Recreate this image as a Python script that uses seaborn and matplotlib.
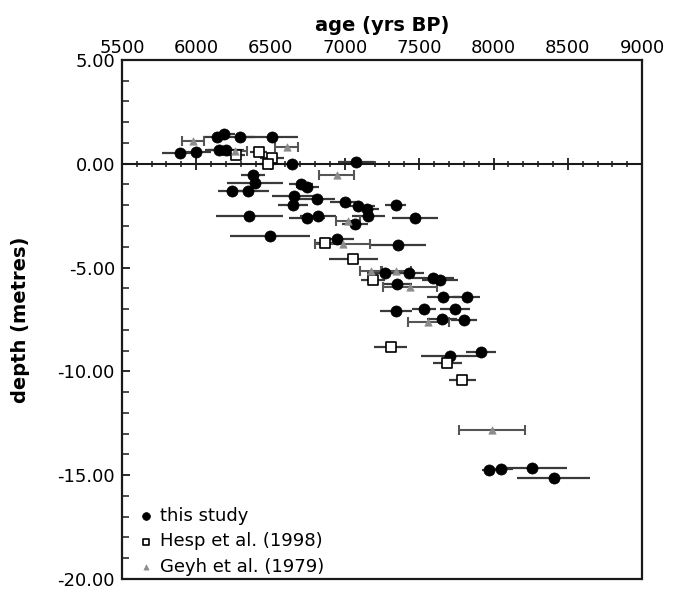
import numpy as np
import pandas as pd
import matplotlib
matplotlib.use("Agg")
import matplotlib.pyplot as plt
import seaborn as sns
from matplotlib.ticker import MultipleLocator, FixedLocator, FormatStrFormatter

# ---- data: this study (filled circles) ----
study_age = [5890, 5998, 6137, 6190, 6297, 6507, 6156, 6200, 6647, 6380,
             6397, 6703, 6748, 6244, 6347, 6657, 6814, 6649, 7001, 7090,
             7151, 7342, 6358, 6747, 6819, 7157, 7472, 7068, 6498, 6950,
             7359, 7270, 7431, 7349, 7593, 7640, 7662, 7820, 7344, 7532,
             7741, 7651, 7801, 7707, 7916, 7970, 8050, 8257, 8405, 7075]
study_depth = [0.51, 0.58, 1.28, 1.42, 1.30, 1.27, 0.66, 0.66, 0.00, -0.53,
               -0.94, -0.96, -1.13, -1.33, -1.33, -1.58, -1.71, -2.00, -1.86, -2.06,
               -2.18, -1.98, -2.54, -2.63, -2.51, -2.54, -2.62, -2.92, -3.50, -3.63,
               -3.90, -5.27, -5.27, -5.78, -5.52, -5.59, -6.42, -6.42, -7.08, -7.00,
               -7.00, -7.47, -7.52, -9.24, -9.05, -14.75, -14.70, -14.66, -15.15, 0.06]
study_err = [120, 100, 90, 70, 100, 175, 100, 120, 60, 80,
             190, 80, 80, 100, 140, 150, 120, 100, 100, 110,
             80, 70, 225, 120, 120, 110, 157, 90, 270, 110,
             190, 120, 100, 100, 140, 120, 110, 90, 110, 80,
             100, 100, 90, 195, 100, 50, 80, 235, 245, 120]

# ---- data: Hesp et al. (1998) (open squares) ----
hesp_age = [6267, 6419, 6511, 6486, 6869, 7057, 7187, 7309, 7689, 7790]
hesp_depth = [0.41, 0.54, 0.27, -0.01, -3.82, -4.58, -5.62, -8.81, -9.61, -10.43]
hesp_err = [60, 60, 80, 60, 80, 163, 80, 112, 98, 90]

# ---- data: Geyh et al. (1979) (grey triangles) ----
geyh_age = [5976, 6608, 6260, 6945, 7019, 6985, 7174, 7344, 7438, 7561, 7987]
geyh_depth = [1.08, 0.82, 0.59, -0.55, -2.78, -3.88, -5.15, -5.15, -5.95, -7.61, -12.83]
geyh_err = [75, 75, 80, 118, 82, 185, 74, 98, 180, 138, 222]

x_ticks = [5500, 6000, 6500, 7000, 7500, 8000, 8500, 9000]
y_ticks = [5, 0, -5, -10, -15, -20]

sns.set_theme(style="white")
plt.rcParams['font.family'] = ['DejaVu Sans']
plt.rcParams['text.color'] = 'black'
plt.rcParams['axes.labelcolor'] = 'black'
plt.rcParams['xtick.color'] = 'black'
plt.rcParams['ytick.color'] = 'black'

fig = plt.figure(figsize=(6.81, 5.90), dpi=100)
ax = fig.add_axes([0.179, 0.0186, 0.764, 0.880])

study = pd.DataFrame({"age": study_age, "depth": study_depth, "err": study_err})
hesp = pd.DataFrame({"age": hesp_age, "depth": hesp_depth, "err": hesp_err})
geyh = pd.DataFrame({"age": geyh_age, "depth": geyh_depth, "err": geyh_err})

# error bars
ax.errorbar(study["age"], study["depth"], xerr=study["err"], fmt="none",
            ecolor="#3a3a3a", elinewidth=1.6, capsize=0, zorder=2)
ax.errorbar(hesp["age"], hesp["depth"], xerr=hesp["err"], fmt="none",
            ecolor="#3a3a3a", elinewidth=1.6, capsize=0, zorder=2)
ax.errorbar(geyh["age"], geyh["depth"], xerr=geyh["err"], fmt="none",
            ecolor="#555555", elinewidth=1.5, capsize=3.5, capthick=1.5, zorder=2)

# markers
sns.scatterplot(data=study, x="age", y="depth", ax=ax, marker="o", s=64,
                color="black", edgecolor="black", linewidth=0.5,
                label="this study", zorder=4)
sns.scatterplot(data=hesp, x="age", y="depth", ax=ax, marker="s", s=45,
                facecolor="white", edgecolor="black", linewidth=1.2,
                label="Hesp et al. (1998)", zorder=5)
sns.scatterplot(data=geyh, x="age", y="depth", ax=ax, marker="^", s=28,
                color="#8c8c8c", edgecolor="#8c8c8c", linewidth=0.5,
                label="Geyh et al. (1979)", zorder=5)

ax.set_xlim(5500, 9000)
ax.set_ylim(-20, 5)

# x axis: ticks on the zero line, labels on top
ax.spines['bottom'].set_position(('data', 0))
for s in ['bottom', 'top', 'left', 'right']:
    ax.spines[s].set_color('#1a1a1a')
    ax.spines[s].set_linewidth(1.6)
ax.spines['bottom'].set_linewidth(1.5)
ax.axhline(-20, color='#1a1a1a', lw=1.6, clip_on=False, zorder=6)

ax.xaxis.set_major_locator(FixedLocator(x_ticks))
ax.xaxis.set_minor_locator(MultipleLocator(100))
ax.tick_params(axis='x', which='major', bottom=True, top=False,
               labelbottom=False, labeltop=True, direction='inout',
               length=8, width=1.3, color='#1a1a1a', labelsize=13, pad=-2)
ax.tick_params(axis='x', which='minor', bottom=True, top=False,
               direction='inout', length=5, width=1.1, color='#1a1a1a')
ax.xaxis.set_label_position('top')
ax.set_xlabel("age (yrs BP)", fontsize=14, fontweight='bold', labelpad=6)

ax.yaxis.set_major_locator(FixedLocator(y_ticks))
ax.yaxis.set_minor_locator(MultipleLocator(1))
ax.yaxis.set_major_formatter(FormatStrFormatter('%.2f'))
ax.tick_params(axis='y', which='major', left=True, right=False, direction='in',
               length=6, width=1.3, color='#1a1a1a', labelsize=13, pad=5)
ax.tick_params(axis='y', which='minor', left=True, right=False, direction='in',
               length=5, width=1.1, color='#1a1a1a')
ax.set_ylabel("depth (metres)", fontsize=14, fontweight='bold', labelpad=20)

ax.grid(False)

leg = ax.legend(loc='lower left', bbox_to_anchor=(-0.01, -0.022), frameon=False,
                fontsize=13, handletextpad=0.0, borderpad=0.3,
                labelspacing=0.42, markerscale=0.7, handlelength=1.6)

fig.savefig("out.png", dpi=100)
